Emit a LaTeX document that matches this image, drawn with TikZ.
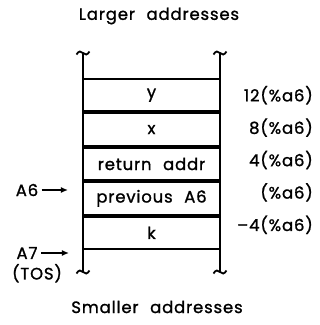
\documentclass[tikz,border=0pt]{standalone}
\usepackage{fontspec}
\setmainfont{Poppins}[FakeBold=1.2, LetterSpace=5]
\usetikzlibrary{arrows.meta, positioning}
\newcommand{\gap}{\hspace{0.7em}}

\begin{document}
\begin{tikzpicture}[
  x=1pt, y=-1pt,
  font=\fontsize{16.5}{19}\selectfont,
  cell/.style={draw, line width=2pt, minimum width=137pt, minimum height=32.4pt, inner sep=0pt},
  offset/.style={anchor=east, inner sep=0pt},
  wall/.style={line width=2pt},
  ptr/.style={-{Latex[length=7pt, width=6pt]}, line width=1.6pt, shorten >=14pt}
]
\useasboundingbox (0,0) rectangle (320,325);

\node (larger) at (159,16) {Larger\gap addresses};
\node (smaller) at (157,307) {Smaller\gap addresses};

% stack frame
\node[cell] (y) at (151.5,95.2) {y};
\node[cell, below=0pt of y] (x) {x};
\node[cell, below=0pt of x] (ret) {return\gap addr};
\node[cell, below=0pt of ret] (prev) {previous\gap A6};
\node[cell, below=0pt of prev] (k) {k};

% walls with break marks
\coordinate (lt) at (83,53);
\coordinate (lb) at (83,272);
\coordinate (rt) at (220,53);
\coordinate (rb) at (220,272);
\draw[wall] (lt) -- (lb);
\draw[wall] (rt) -- (rb);
\foreach \c in {lt, lb, rt, rb}
  \draw[line width=1.8pt] (\c) ++(-6.5,1.5) sin ++(3.25,-3) cos ++(3.25,1.5) sin ++(3.25,1.5) cos ++(3.25,-3);

% offsets from a6
\node[offset] (oy) at (313,95.2) {12(\%a6)};
\node[offset] (ox) at (313,127.6) {8(\%a6)};
\node[offset] (oret) at (313,160) {4(\%a6)};
\node[offset] (oprev) at (313,192.4) {(\%a6)};
\node[offset] (ok) at (313,224.8) {–4(\%a6)};

% registers
\node (a6) at (27,190) {A6};
\draw[ptr] (a6) -- (prev.west |- a6);
\node (a7) at (27,253) {A7};
\node[below=-2pt of a7, xshift=10pt] (tos) {(TOS)};
\coordinate (sp) at (83,253);
\draw[ptr] (a7) -- (sp);
\end{tikzpicture}
\end{document}
